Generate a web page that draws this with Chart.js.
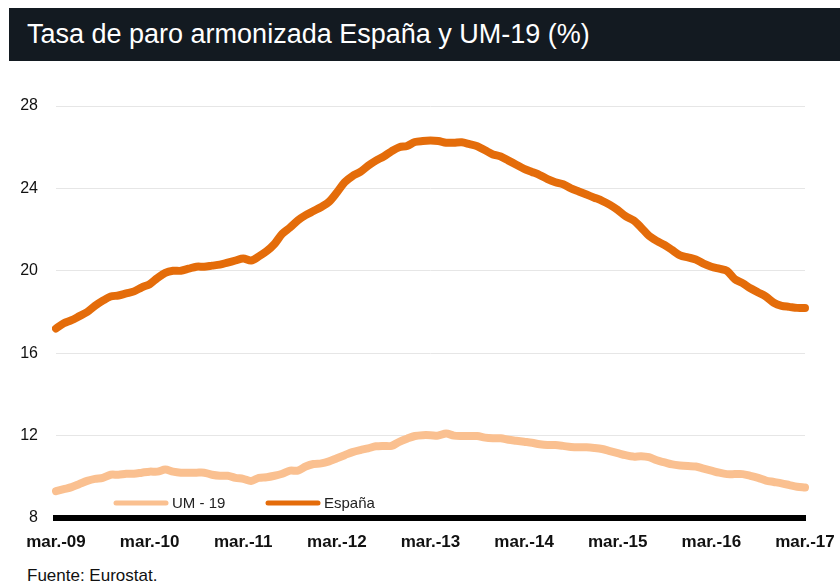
<!DOCTYPE html>
<html>
<head>
<meta charset="utf-8">
<script src="https://cdn.jsdelivr.net/npm/chart.js@4"></script>
<style>
  body { margin: 0; background: #fff; width: 840px; height: 584px; overflow: hidden; position: relative; font-family: "Liberation Sans", Arial, sans-serif; }
  #title { position: absolute; left: 9px; top: 8px; width: 831px; height: 53px; background: #131a21; color: #fff; font-size: 27px; line-height: 53px; padding-left: 18px; box-sizing: border-box; white-space: nowrap; }
  #chartWrap { position: absolute; left: 0; top: 62px; }
  #source { position: absolute; left: 27px; top: 567px; font-size: 17px; line-height: 17px; color: #111; }
</style>
</head>
<body>
<div id="title">Tasa de paro armonizada España y UM-19 (%)</div>
<div id="chartWrap"><canvas id="paroChart" width="840" height="500"></canvas></div>
<div id="source">Fuente: Eurostat.</div>
<script>
// Monthly data, mar.-09 .. mar.-17
const years = ['09', '10', '11', '12', '13', '14', '15', '16', '17'];
const monthNames = ['mar.', 'abr.', 'may.', 'jun.', 'jul.', 'ago.', 'sep.', 'oct.', 'nov.', 'dic.', 'ene.', 'feb.'];

const espana = [
  17.2, 17.45, 17.6, 17.8, 18.0, 18.3, 18.55, 18.75, 18.8, 18.9, 19.0, 19.2,
  19.35, 19.65, 19.9, 20.0, 20.0, 20.1, 20.2, 20.2, 20.25, 20.3, 20.4, 20.5,
  20.6, 20.5, 20.7, 20.95, 21.3, 21.8, 22.1, 22.45, 22.7, 22.9, 23.1, 23.35,
  23.8, 24.3, 24.6, 24.8, 25.1, 25.35, 25.55, 25.8, 26.0, 26.06, 26.25, 26.3,
  26.32, 26.3, 26.22, 26.22, 26.24, 26.15, 26.05, 25.85, 25.65, 25.55, 25.35, 25.15,
  24.95, 24.8, 24.65, 24.45, 24.3, 24.2, 24.0, 23.85, 23.7, 23.55, 23.4, 23.2,
  22.95, 22.65, 22.45, 22.1, 21.7, 21.45, 21.25, 21.0, 20.75, 20.65, 20.55, 20.35,
  20.2, 20.1, 20.0, 19.6, 19.4, 19.15, 18.95, 18.75, 18.45, 18.3, 18.25, 18.2,
  18.2
];

const um19 = [
  9.3, 9.4, 9.5, 9.65, 9.8, 9.9, 9.95, 10.1, 10.1, 10.15, 10.15, 10.2,
  10.25, 10.25, 10.35, 10.25, 10.2, 10.2, 10.2, 10.2, 10.1, 10.05, 10.05, 9.95,
  9.9, 9.8, 9.95, 9.98, 10.05, 10.15, 10.3, 10.3, 10.5, 10.62, 10.65, 10.75,
  10.9, 11.05, 11.2, 11.3, 11.38, 11.48, 11.5, 11.5, 11.7, 11.85, 11.98, 12.02,
  12.02, 12.0, 12.1, 12.0, 11.98, 11.98, 11.98, 11.9, 11.87, 11.87, 11.8, 11.75,
  11.7, 11.65, 11.58, 11.54, 11.54, 11.5, 11.45, 11.43, 11.43, 11.4, 11.35, 11.25,
  11.15, 11.05, 10.98, 11.0, 10.95, 10.8, 10.7, 10.6, 10.55, 10.52, 10.5, 10.4,
  10.3, 10.2, 10.13, 10.13, 10.13, 10.05, 9.95, 9.82, 9.75, 9.68, 9.6, 9.52,
  9.48
];

const yTicks = [8, 12, 16, 20, 24, 28];

// build month labels; a new year starts at "ene."
const labels = [];
for (let i = 0; i < espana.length; i++) {
  const m = i % 12;
  const yearIdx = Math.floor((i + 2) / 12);
  labels.push(monthNames[m] + '-' + years[Math.min(yearIdx, years.length - 1)]);
}

const font = '"Liberation Sans", Arial, sans-serif';

// legend drawn inside the plot area, bottom left
const innerLegend = {
  id: 'innerLegend',
  afterDraw(chart, args, opts) {
    const ctx = chart.ctx;
    const area = chart.chartArea;
    const y = area.bottom + opts.offsetY;
    ctx.save();
    chart.data.datasets.forEach((ds, i) => {
      const x = area.left + opts.starts[i];
      ctx.strokeStyle = ds.borderColor;
      ctx.lineWidth = 5;
      ctx.lineCap = 'round';
      ctx.beginPath();
      ctx.moveTo(x, y);
      ctx.lineTo(x + opts.lineLength, y);
      ctx.stroke();
      ctx.fillStyle = '#222';
      ctx.font = '15px ' + font;
      ctx.textBaseline = 'middle';
      ctx.fillText(ds.label, x + opts.lineLength + 6, y + 1);
    });
    ctx.restore();
  }
};

const ctx = document.getElementById('paroChart').getContext('2d');
const paroChart = new Chart(ctx, {
  type: 'line',
  data: {
    labels: labels,
    datasets: [
      {
        label: 'UM - 19',
        data: um19,
        borderColor: '#fac090',
        borderWidth: 8,
        pointRadius: 0,
        tension: 0.3,
        borderCapStyle: 'round',
        borderJoinStyle: 'round',
        fill: false
      },
      {
        label: 'España',
        data: espana,
        borderColor: '#e46c0a',
        borderWidth: 8,
        pointRadius: 0,
        tension: 0.3,
        borderCapStyle: 'round',
        borderJoinStyle: 'round',
        fill: false
      }
    ]
  },
  options: {
    responsive: false,
    animation: false,
    devicePixelRatio: 1,
    layout: { padding: { top: 44, right: 35, bottom: 0, left: 0 } },
    plugins: {
      legend: { display: false },
      tooltip: { enabled: false },
      innerLegend: { starts: [60, 212], lineLength: 50, offsetY: -15 }
    },
    scales: {
      x: {
        offset: false,
        grid: { display: false, drawTicks: false },
        border: { display: true, color: '#000', width: 6 },
        afterFit: s => { s.height = 44; s.paddingLeft = 0; s.paddingRight = 0; },
        ticks: {
          autoSkip: false,
          maxRotation: 0,
          padding: 14,
          color: '#111',
          font: { family: font, size: 17, weight: 'bold' },
          callback: function (val, idx) {
            return idx % 12 === 0 ? this.getLabelForValue(val) : null;
          }
        }
      },
      y: {
        min: yTicks[0],
        max: yTicks[yTicks.length - 1],
        afterFit: s => { s.width = 56; },
        afterBuildTicks: s => { s.ticks = yTicks.map(v => ({ value: v })); },
        border: { display: false },
        grid: {
          drawTicks: false,
          color: c => c.tick && c.tick.value === yTicks[0] ? 'rgba(0,0,0,0)' : '#e6e6e6',
          lineWidth: 1
        },
        ticks: {
          padding: 18,
          color: '#111',
          font: { family: font, size: 16 }
        }
      }
    }
  },
  plugins: [innerLegend]
});
</script>
</body>
</html>
